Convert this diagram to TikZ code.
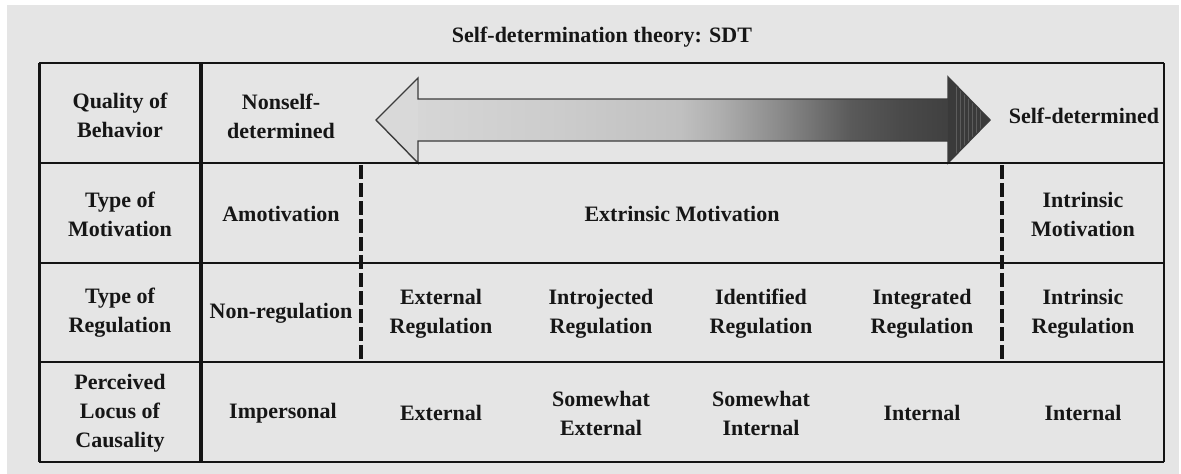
\documentclass[tikz,border=0pt]{standalone}
\usepackage{fontspec}
\setmainfont{Liberation Serif}
\definecolor{bgc}{HTML}{E5E5E5}
\definecolor{linec}{HTML}{141414}
\definecolor{textc}{HTML}{161616}
\definecolor{arrowline}{HTML}{3C3C3C}
\definecolor{s0}{HTML}{D9D9D9}
\definecolor{s1}{HTML}{D6D6D6}
\definecolor{s2}{HTML}{CCCCCC}
\definecolor{s3}{HTML}{C0C0C0}
\definecolor{s4}{HTML}{AEAEAE}
\definecolor{s5}{HTML}{8A8A8A}
\definecolor{s6}{HTML}{5A5A5A}
\definecolor{s7}{HTML}{4A4A4A}
\definecolor{s8}{HTML}{404040}
\definecolor{s9}{HTML}{3A3A3A}
\definecolor{stripe}{HTML}{5C5C5C}
\begin{document}
\begin{tikzpicture}[x=1pt,y=-1pt,
  txt/.style={font=\fontsize{22}{29}\selectfont\bfseries, text=textc, align=center, inner sep=0pt},
  gline/.style={draw=linec, line width=2pt},
  dashline/.style={draw=linec, line width=3.5pt, dash pattern=on 14pt off 4pt, dash phase=-2pt},
  thickline/.style={draw=linec, line width=3.5pt}]
\useasboundingbox (0,0) rectangle (1181,474);
\fill[bgc] (7,5) rectangle (1179,474);
% grid coordinates
\foreach \x [count=\i from 0] in {39,201,361,521,681,842,1002,1164}
  \foreach \y [count=\j from 0] in {63,163,263,362,462}
    \coordinate (p\i-\j) at (\x,\y);
% arrow
\coordinate (al) at (376,120);
\coordinate (ar) at (990,120);
\def\arrowpath{(al) -- (418,78) -- (418,99) -- (948,99) -- (948,77) -- (ar) -- (948,163) -- (948,141) -- (418,141) -- (418,163) -- cycle}
\begin{scope}
  \clip \arrowpath;
  \fill[s0] (370,70) rectangle (418.5,170);
  \shade[left color=s1, right color=s2] (418,70) rectangle (560.5,170);
  \shade[left color=s2, right color=s3] (560,70) rectangle (680.5,170);
  \shade[left color=s3, right color=s4] (680,70) rectangle (720.5,170);
  \shade[left color=s4, right color=s5] (720,70) rectangle (780.5,170);
  \shade[left color=s5, right color=s6] (780,70) rectangle (850.5,170);
  \shade[left color=s6, right color=s7] (850,70) rectangle (900.5,170);
  \shade[left color=s7, right color=s8] (900,70) rectangle (948.5,170);
  \fill[s9] (948,70) rectangle (1000,170);
  \foreach \sx in {956,960,964,968,972,976,980}
    \draw[stripe, line width=0.7pt] (\sx,70) -- (\sx,170);
\end{scope}
\draw[arrowline, line width=1.4pt, line join=miter] \arrowpath;
% table lines
\draw[gline] (p0-0) -- (p7-0);
\draw[gline, line width=2.7pt] (p0-1) -- (p7-1);
\draw[gline, line width=2.3pt] (p0-2) -- (p7-2);
\draw[gline, line width=2.3pt] (p0-3) -- (p7-3);
\draw[gline, line width=2.4pt] (p7-0) -- (p7-4);
\draw[gline, line width=2.8pt] (p0-4) -- (p7-4);
\draw[gline, line width=3pt] (p0-0) -- (p0-4);
\draw[thickline] (p1-0) -- (p1-4);
\draw[dashline] (p2-1) -- (p2-3);
\draw[dashline] (p6-1) -- (p6-3);
% title
\node[txt] (title) at (602,37) {Self-determination theory: SDT};
% row 1
\node[txt] (h1) at (120,115) {Quality of\\Behavior};
\node[txt] (nsd) at (281,116) {Nonself-\\determined};
\node[txt] (sd) at (1084,116) {Self-determined};
% row 2
\node[txt] (h2) at (120,214) {Type of\\Motivation};
\node[txt] (amo) at (281,214) {Amotivation};
\node[txt] (ext) at (682,214) {Extrinsic Motivation};
\node[txt] (intm) at (1083,214) {Intrinsic\\Motivation};
% row 3
\node[txt] (h3) at (120,313) {Type of\\Regulation};
\node[txt] (nonr) at (281,313) {Non-regulation};
\node[txt] (extr) at (441,314) {External\\Regulation};
\node[txt] (intro) at (601,314) {Introjected\\Regulation};
\node[txt] (iden) at (761,314) {Identified\\Regulation};
\node[txt] (integ) at (922,314) {Integrated\\Regulation};
\node[txt] (intr) at (1083,314) {Intrinsic\\Regulation};
% row 4
\node[txt] (h4) at (120,413) {Perceived\\Locus of\\Causality};
\node[txt] (imp) at (283,413) {Impersonal};
\node[txt] (lext) at (441,413) {External};
\node[txt] (swe) at (601,413) {Somewhat\\External};
\node[txt] (swi) at (761,413) {Somewhat\\Internal};
\node[txt] (lint1) at (922,413) {Internal};
\node[txt] (lint2) at (1083,413) {Internal};
\end{tikzpicture}
\end{document}
